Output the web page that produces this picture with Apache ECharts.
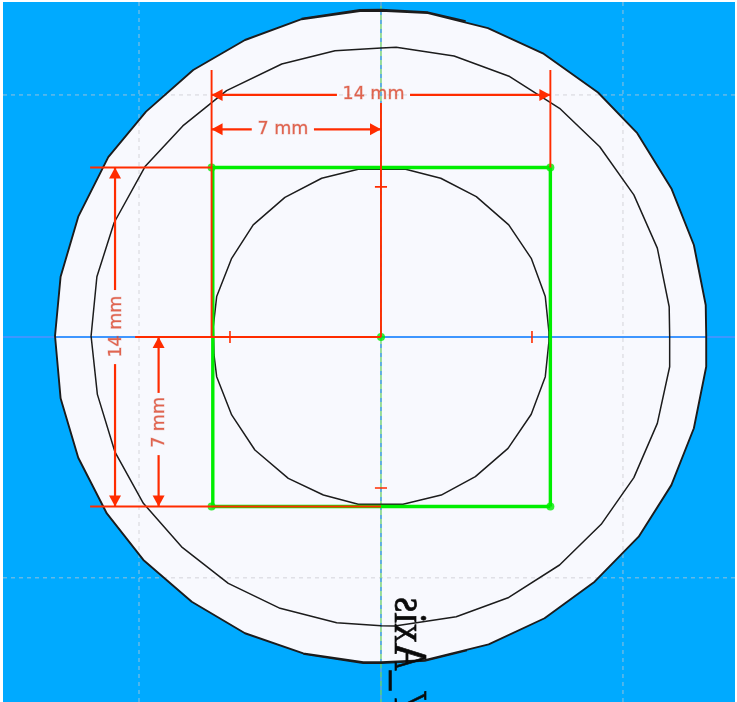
<!DOCTYPE html>
<html>
<head>
<meta charset="utf-8">
<style>
  html, body { margin: 0; padding: 0; background: #fff; }
  #chart { width: 737px; height: 702px; }
</style>
<script src="https://cdn.jsdelivr.net/npm/echarts@6/dist/echarts.min.js"></script>
</head>
<body>
<div id="chart"></div>
<script>
// All values are sketch millimetres, origin at the centre
const outerRing = [[-13.47,0.04],[-13.24,2.49],[-12.51,4.97],[-11.27,7.43],[-9.71,9.31],[-7.76,11.03],[-5.62,12.27],[-3.28,13.13],[-0.87,13.47],[0.01,13.48],[1.94,13.38],[4.42,12.76],[6.69,11.72],[8.97,10.10],[10.59,8.42],[12.0,6.14],[12.93,3.80],[13.42,1.32],[13.44,0.04],[13.44,-1.23],[12.93,-3.77],[12.0,-6.12],[10.65,-8.25],[8.83,-10.11],[6.76,-11.62],[4.45,-12.70],[1.81,-13.35],[0.01,-13.44],[-0.73,-13.44],[-3.21,-13.07],[-5.62,-12.24],[-7.82,-10.94],[-9.82,-9.21],[-11.33,-7.29],[-12.51,-4.99],[-13.24,-2.53],[-13.47,0.04]];
const outerTopDouble = [[-3.28,13.16],[-0.87,13.52],[0.01,13.53],[1.94,13.42],[3.5,13.05]];
const outerBottomDouble = [[-3.21,-13.1],[-0.73,-13.48],[0.01,-13.48],[1.81,-13.38],[3.55,-12.95]];
const middleRing = [[-11.98,0.04],[-11.74,2.49],[-11.03,4.72],[-9.75,7.04],[-8.19,8.72],[-6.38,10.18],[-4.10,11.28],[-1.90,11.83],[0.01,11.94],[0.63,11.97],[3.02,11.61],[5.32,10.76],[7.38,9.45],[9.04,7.86],[10.45,5.87],[11.42,3.67],[11.91,1.25],[11.93,0.04],[11.93,-1.23],[11.42,-3.57],[10.45,-5.81],[9.10,-7.74],[7.38,-9.42],[5.28,-10.76],[3.11,-11.56],[0.57,-11.94],[0.01,-11.93],[-1.83,-11.81],[-4.17,-11.21],[-6.31,-10.18],[-8.24,-8.67],[-9.82,-6.87],[-10.99,-4.76],[-11.72,-2.37],[-11.98,0.04]];
const innerRing = [[-6.93,0.43],[-6.79,1.67],[-6.17,3.25],[-5.28,4.63],[-3.97,5.77],[-2.45,6.56],[-0.94,6.93],[0.98,6.94],[2.47,6.56],[3.94,5.80],[5.28,4.63],[6.21,3.25],[6.79,1.67],[6.94,0.22],[6.94,-0.19],[6.79,-1.64],[6.21,-3.19],[5.25,-4.60],[3.90,-5.77],[2.49,-6.53],[0.91,-6.91],[-0.94,-6.91],[-2.38,-6.53],[-3.83,-5.84],[-5.21,-4.67],[-6.17,-3.22],[-6.79,-1.64],[-6.90,-0.74],[-6.93,0.43]];

const squareEdges = [[[-7,7],[7,7]],[[7,7],[7,-7]],[[7,-7],[-7,-7]],[[-6.95,7],[-6.95,-7]]];
const squarePoints = [[-7,7],[7,7],[-7,-7],[7,-7],[0,0]];

const redLeaders = [
  [[-12.02,7],[-7,7]],
  [[-12.02,-7],[0,-7]],
  [[-7,11.03],[-7,0]],
  [[7,11.03],[7,7]],
  [[0,9.67],[0,0]],
  [[-10.16,0],[0,0]]
];
const dimensionShafts = [
  [[-7,10],[-1.82,10]],
  [[1.2,10],[7,10]],
  [[-7,8.58],[-5.34,8.58]],
  [[-2.77,8.58],[0,8.58]],
  [[-10.99,7],[-10.99,1.94]],
  [[-10.99,-1.12],[-10.99,-7]],
  [[-9.19,0],[-9.19,-2.31]],
  [[-9.19,-4.88],[-9.19,-7]]
];
// tip x, tip y, direction in degrees
const arrowTips = [
  [-7,10,180],[7,10,0],
  [-7,8.58,180],[0,8.58,0],
  [-10.99,7,90],[-10.99,-7,270],
  [-9.19,0,90],[-9.19,-7,270]
];
const constraintTicks = [
  [[-0.25,6.2],[0.25,6.2]],
  [[-0.25,-6.24],[0.25,-6.24]],
  [[-6.24,0.25],[-6.24,-0.25]],
  [[6.24,0.25],[6.24,-0.25]]
];

const dimensionTexts = ['14 mm', '7 mm', '14 mm', '7 mm'];
const dimensionTextPos = [[-0.31,10],[-4.05,8.58],[-10.95,0.43],[-9.17,-3.53]];
const dimensionTextRotate = [0, 0, 90, 90];

const gridX = [-10, 10];
const gridY = [-9.95, 10];
const axisName = 'Y_Axis';
const axisNamePos = [1.1, -10.75];

// picture limits of the plot area, in mm
const xMin = -15.62, xMax = 14.63, yMin = -15.08, yMax = 13.84;

const RED = '#ff2c00';
const GREEN = '#00ee00';
const BLACK = '#1c1c1c';

function path(data, color, width, z, extra) {
  return {
    type: 'line',
    data: data,
    showSymbol: false,
    silent: true,
    animation: false,
    z: z,
    lineStyle: Object.assign({ color: color, width: width, cap: 'butt' }, extra || {})
  };
}

const series = [];

// part face
series.push({
  type: 'custom',
  silent: true,
  animation: false,
  z: 1,
  data: [0],
  renderItem: (params, api) => ({
    type: 'polygon',
    shape: { points: outerRing.map(p => api.coord(p)) },
    style: { fill: '#f8f9fe' }
  })
});

// background grid
gridX.forEach(x => series.push(path([[x, yMin], [x, yMax]], 'rgba(200,200,205,0.75)', 1, 2, { type: [4, 4] })));
gridY.forEach(y => series.push(path([[xMin, y], [xMax, y]], 'rgba(200,200,205,0.75)', 1, 2, { type: [4, 4] })));

// sketch axes
series.push(path([[xMin, 0], [xMax, 0]], '#3f96ff', 2, 3));
series.push(path([[0, yMax], [0, yMin]], '#6fd06f', 1.4, 3));
series.push(path([[0, yMax], [0, yMin]], '#4a9bff', 1.4, 3, { type: [4, 5] }));

// profile
series.push(path(outerRing, BLACK, 1.9, 4));
series.push(path(outerTopDouble, BLACK, 1.6, 4));
series.push(path(outerBottomDouble, BLACK, 1.6, 4));
series.push(path(middleRing, BLACK, 1.5, 4));
series.push(path(innerRing, BLACK, 1.5, 4));

// square
squareEdges.forEach(e => series.push(path(e, GREEN, 3.4, 5)));
series.push({
  type: 'scatter',
  data: squarePoints,
  symbol: 'circle',
  symbolSize: 8,
  silent: true,
  animation: false,
  z: 6,
  itemStyle: { color: GREEN }
});

// dimensions
redLeaders.forEach(s => series.push(path(s, RED, 1.9, 7)));
dimensionShafts.forEach(s => series.push(path(s, RED, 2.2, 7)));
constraintTicks.forEach(s => series.push(path(s, RED, 1.6, 7)));

series.push({
  type: 'custom',
  silent: true,
  animation: false,
  z: 8,
  data: arrowTips,
  renderItem: (params, api) => {
    const tip = api.coord([api.value(0), api.value(1)]);
    const a = api.value(2) * Math.PI / 180;
    const ux = Math.cos(a), uy = -Math.sin(a);
    const bx = tip[0] - ux * 11, by = tip[1] - uy * 11;
    return {
      type: 'polygon',
      shape: { points: [tip, [bx - uy * 6, by + ux * 6], [bx + uy * 6, by - ux * 6]] },
      style: { fill: RED }
    };
  }
});

series.push({
  type: 'scatter',
  silent: true,
  animation: false,
  symbolSize: 0,
  z: 9,
  data: dimensionTexts.map((t, i) => ({
    value: dimensionTextPos[i],
    label: {
      show: true,
      position: 'inside',
      formatter: t,
      rotate: dimensionTextRotate[i],
      fontFamily: 'DejaVu Sans',
      fontSize: 17.5,
      color: '#dc4428',
      textBorderColor: 'rgba(200,80,60,0.35)',
      textBorderWidth: 1
    }
  }))
});

// mirrored sketch axis name, runs off the bottom of the view
series.push({
  type: 'custom',
  silent: true,
  animation: false,
  clip: false,
  z: 10,
  data: [axisNamePos],
  renderItem: (params, api) => {
    const p = api.coord([api.value(0), api.value(1)]);
    return {
      type: 'text',
      x: p[0],
      y: p[1],
      rotation: Math.PI / 2,
      scaleX: 1,
      scaleY: -1.2,
      style: {
        text: axisName,
        fontFamily: 'Liberation Serif',
        fontSize: 39,
        fill: '#0a0a0a',
        stroke: '#0a0a0a',
        lineWidth: 0.6,
        align: 'right',
        verticalAlign: 'middle'
      }
    };
  }
});

const chart = echarts.init(document.getElementById('chart'), null, { renderer: 'canvas' });
chart.setOption({
  animation: false,
  backgroundColor: '#ffffff',
  grid: {
    show: true,
    left: 3,
    top: 2,
    right: 2,
    bottom: 0,
    borderWidth: 0,
    backgroundColor: '#00aaff'
  },
  xAxis: { type: 'value', min: xMin, max: xMax, show: false },
  yAxis: { type: 'value', min: yMin, max: yMax, show: false },
  series: series
});
</script>
</body>
</html>
